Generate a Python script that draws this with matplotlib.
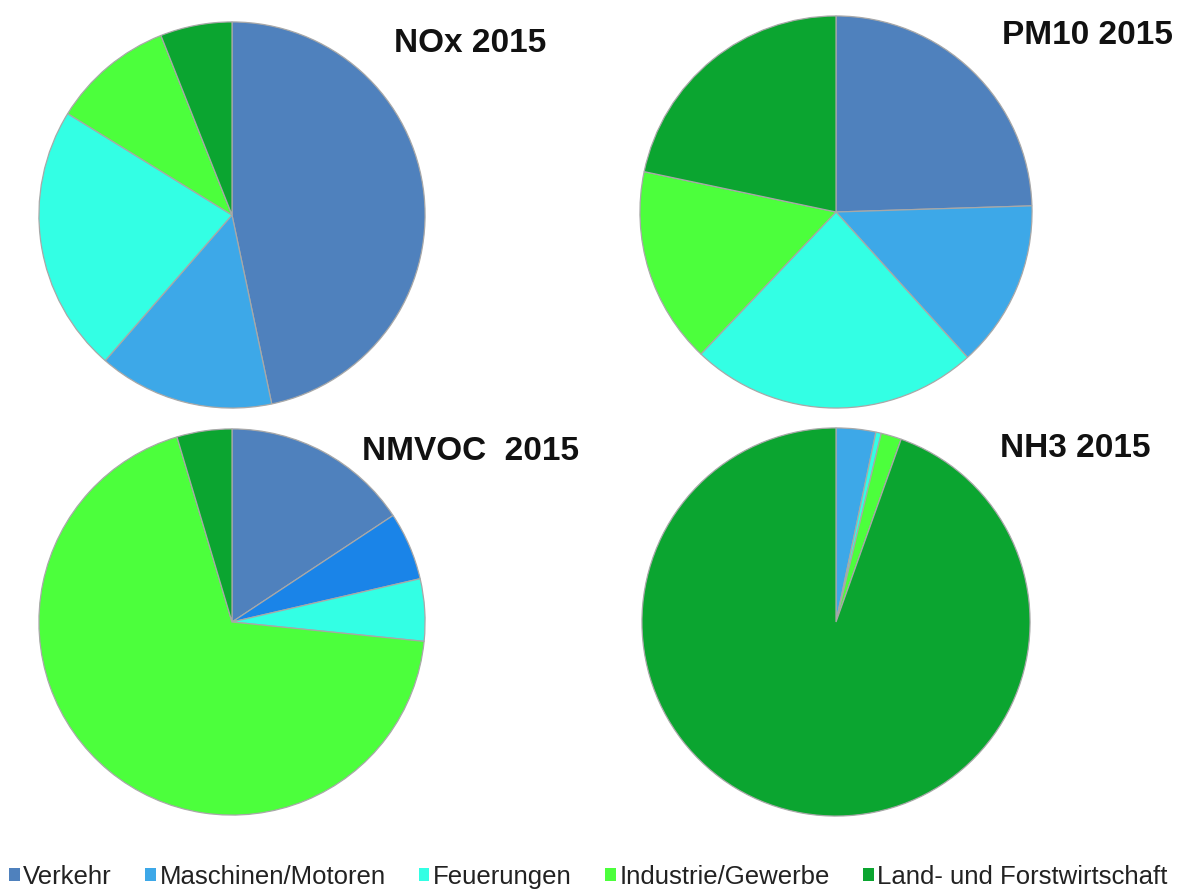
import matplotlib.pyplot as plt
from matplotlib.patches import Patch

plt.rcParams['font.family'] = ['Liberation Sans', 'DejaVu Sans']

# emission sources (legend order)
sources = ['Verkehr', 'Maschinen/Motoren', 'Feuerungen',
           'Industrie/Gewerbe', 'Land- und Forstwirtschaft']
colors = ['#4F81BD', '#3DA8E8', '#33FFE4', '#4CFF3C', '#0BA530']

# shares in percent
nox = [46.7, 14.7, 22.4, 10.2, 6.0]
pm10 = [24.5, 13.8, 23.8, 16.2, 21.7]
nmvoc = [15.7, 5.7, 5.2, 68.8, 4.6]
nh3 = [0.0, 3.3, 0.45, 1.7, 94.55]

titles = ['NOx 2015', 'PM10 2015', 'NMVOC  2015', 'NH3 2015']

W, H = 1177, 893
fig = plt.figure(figsize=(W / 100, H / 100), dpi=100)

# pie centre / radius in pixels, title centre in pixels
pies = [
    (nox, (232, 215, 195), (470, 44)),
    (pm10, (836, 212, 198), (1087, 36)),
    (nmvoc, (232, 622, 195), (470, 452)),
    (nh3, (836, 622, 196), (1075, 449)),
]

for (vals, (cx, cy, r), (tx, ty)), title in zip(pies, titles):
    ax = fig.add_axes([(cx - r) / W, (H - cy - r) / H, 2 * r / W, 2 * r / H])
    cols = list(colors)
    if vals is nmvoc:
        cols[1] = '#1A84E8'
    ax.pie(vals, colors=cols, startangle=90, counterclock=False, radius=1,
           wedgeprops=dict(edgecolor='#A8A8A8', linewidth=0.9))
    ax.set_xlim(-1.01, 1.01)
    ax.set_ylim(-1.01, 1.01)
    ax.set_aspect('equal')
    ax.axis('off')
    fig.text(tx / W, 1 - ty / H, title, ha='center', va='center',
             fontsize=24, fontweight='bold', color='#111111')

handles = [Patch(facecolor=c, edgecolor='none') for c in colors]
fig.legend(handles, sources, loc='center', bbox_to_anchor=(0.5, 1 - 877 / H),
           ncol=5, frameon=False, fontsize=18.5, handlelength=0.4,
           handleheight=0.4, handletextpad=0.15, columnspacing=1.3,
           labelcolor='#222222')

fig.savefig('out.png', dpi=100, facecolor='white')
